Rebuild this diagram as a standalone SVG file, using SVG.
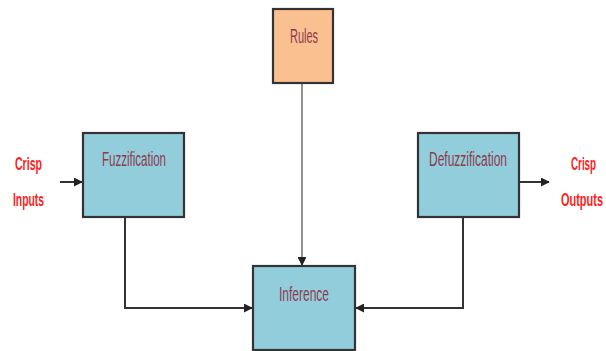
<svg xmlns="http://www.w3.org/2000/svg" width="606" height="351" viewBox="0 0 606 351">
<style>
.box{stroke:#333;stroke-width:2.2}
.blue{fill:#92CDDC}
.orange{fill:#FAC090}
.lbl{font-family:"Liberation Sans",Arial,sans-serif;font-size:20px;fill:#8E3B4E}
.red{font-family:"Liberation Sans",Arial,sans-serif;font-size:19px;font-weight:bold;fill:#FF2020}
.con{fill:none;stroke:#333;stroke-width:2}
.con2{fill:none;stroke:#777;stroke-width:1.6}
</style>
<defs>
<marker id="ah" viewBox="0 0 10 10" refX="9" refY="5" markerWidth="4.5" markerHeight="4.5" orient="auto" markerUnits="strokeWidth">
<path d="M0,0 L10,5 L0,10 z" fill="#222"/>
</marker>
<marker id="ah2" viewBox="0 0 10 10" refX="9" refY="5" markerWidth="5.5" markerHeight="5.5" orient="auto" markerUnits="strokeWidth">
<path d="M0,0 L10,5 L0,10 z" fill="#222"/>
</marker>
</defs>
<g id="connectors">
<path class="con" d="M60,182 H82" marker-end="url(#ah)"/>
<path class="con" d="M519,182 H549" marker-end="url(#ah)"/>
<path class="con2" d="M302,83 V265" marker-end="url(#ah2)"/>
<path class="con" d="M125,217 V308 H252" marker-end="url(#ah)"/>
<path class="con" d="M463,217 V308 H356" marker-end="url(#ah)"/>
</g>
<g id="rules">
<rect class="box orange" x="273" y="9" width="60" height="74"/>
<text class="lbl" x="290" y="43" textLength="28" lengthAdjust="spacingAndGlyphs">Rules</text>
</g>
<g id="fuzzification">
<rect class="box blue" x="83" y="133" width="101" height="84"/>
<text class="lbl" x="102" y="166" textLength="64" lengthAdjust="spacingAndGlyphs">Fuzzification</text>
</g>
<g id="defuzzification">
<rect class="box blue" x="418" y="133" width="101" height="84"/>
<text class="lbl" x="429" y="166" textLength="78" lengthAdjust="spacingAndGlyphs">Defuzzification</text>
</g>
<g id="inference">
<rect class="box blue" x="253" y="266" width="102" height="84"/>
<text class="lbl" x="279" y="301" textLength="50" lengthAdjust="spacingAndGlyphs">Inference</text>
</g>
<g id="crisp-inputs">
<text class="red" transform="translate(15,170) scale(0.55,1)" x="0" y="0" textLength="49" lengthAdjust="spacingAndGlyphs">Crisp</text>
<text class="red" transform="translate(13,206) scale(0.55,1)" x="0" y="0" textLength="56.4" lengthAdjust="spacingAndGlyphs">Inputs</text>
</g>
<g id="crisp-outputs">
<text class="red" transform="translate(571,170) scale(0.55,1)" x="0" y="0" textLength="45.5" lengthAdjust="spacingAndGlyphs">Crisp</text>
<text class="red" transform="translate(561,206) scale(0.58,1)" x="0" y="0" textLength="72.4" lengthAdjust="spacingAndGlyphs">Outputs</text>
</g>
</svg>
